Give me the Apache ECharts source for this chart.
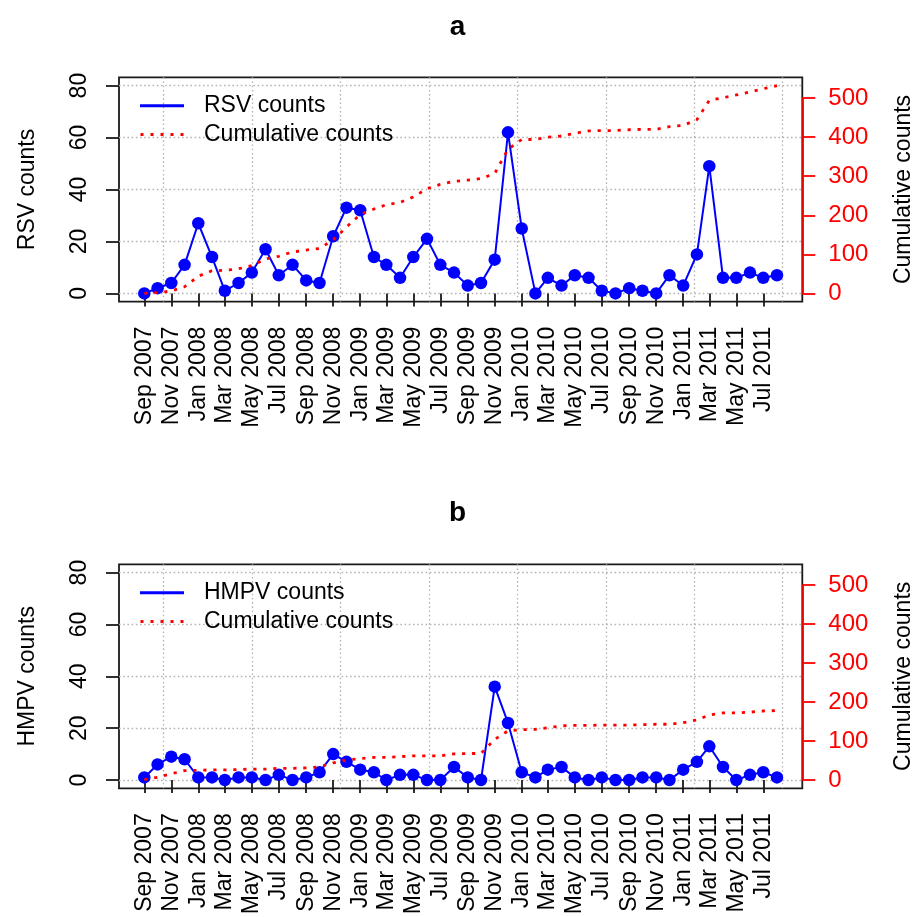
<!DOCTYPE html>
<html>
<head>
<meta charset="utf-8">
<script src="https://cdn.jsdelivr.net/npm/echarts@6/dist/echarts.min.js"></script>
<style>
  html, body { margin: 0; padding: 0; background: #ffffff; }
  #chart { width: 915px; height: 917px; }
</style>
</head>
<body>
<div id="chart"></div>
<script>
// Monthly surveillance counts, Sep 2007 - Aug 2011
const months = [
  '2007-09', '2007-10', '2007-11', '2007-12',
  '2008-01', '2008-02', '2008-03', '2008-04', '2008-05', '2008-06',
  '2008-07', '2008-08', '2008-09', '2008-10', '2008-11', '2008-12',
  '2009-01', '2009-02', '2009-03', '2009-04', '2009-05', '2009-06',
  '2009-07', '2009-08', '2009-09', '2009-10', '2009-11', '2009-12',
  '2010-01', '2010-02', '2010-03', '2010-04', '2010-05', '2010-06',
  '2010-07', '2010-08', '2010-09', '2010-10', '2010-11', '2010-12',
  '2011-01', '2011-02', '2011-03', '2011-04', '2011-05', '2011-06',
  '2011-07', '2011-08'
];

const rsvCounts = [
  0, 2, 4, 11, 27, 14, 1, 4, 8, 17, 7, 11, 5, 4, 22, 33,
  32, 14, 11, 6, 14, 21, 11, 8, 3, 4, 13, 62, 25, 0, 6, 3,
  7, 6, 1, 0, 2, 1, 0, 7, 3, 15, 49, 6, 6, 8, 6, 7
];
const rsvCumulative = [
  0, 2, 6, 17, 44, 58, 59, 63, 71, 88, 95, 106, 111, 115, 137, 170,
  202, 216, 227, 233, 247, 268, 279, 287, 290, 294, 307, 369, 394, 394, 400, 403,
  410, 416, 417, 417, 419, 420, 420, 427, 430, 445, 494, 501, 508, 516, 524, 532
];

const hmpvCounts = [
  1, 6, 9, 8, 1, 1, 0, 1, 1, 0, 2, 0, 1, 3, 10, 7,
  4, 3, 0, 2, 2, 0, 0, 5, 1, 0, 36, 22, 3, 1, 4, 5,
  1, 0, 1, 0, 0, 1, 1, 0, 4, 7, 13, 5, 0, 2, 3, 1
];
const hmpvCumulative = [
  1, 7, 16, 24, 25, 26, 26, 27, 28, 28, 30, 30, 31, 34, 44, 51,
  55, 58, 58, 60, 62, 62, 62, 67, 68, 68, 104, 126, 129, 130, 134, 139,
  140, 140, 141, 141, 141, 142, 143, 143, 147, 154, 167, 172, 172, 174, 177, 178
];

// Axis ticks
const monthTicks = [
  'Sep 2007', 'Nov 2007', 'Jan 2008', 'Mar 2008', 'May 2008', 'Jul 2008',
  'Sep 2008', 'Nov 2008', 'Jan 2009', 'Mar 2009', 'May 2009', 'Jul 2009',
  'Sep 2009', 'Nov 2009', 'Jan 2010', 'Mar 2010', 'May 2010', 'Jul 2010',
  'Sep 2010', 'Nov 2010', 'Jan 2011', 'Mar 2011', 'May 2011', 'Jul 2011'
];
const countTicks = [0, 20, 40, 60, 80];
const cumulativeTicks = [0, 100, 200, 300, 400, 500];
// vertical reference grid, in days since 1970-01-01
const dayGridTicks = [13800, 14000, 14200, 14400, 14600, 14800, 15000, 15200];

// ---------- helpers ----------
const MONTH_ABBR = ['Jan', 'Feb', 'Mar', 'Apr', 'May', 'Jun', 'Jul', 'Aug', 'Sep', 'Oct', 'Nov', 'Dec'];
const DAY_MS = 86400000;
function dayOfIso(s) {
  const [y, m] = s.split('-').map(Number);
  return Date.UTC(y, m - 1, 1) / DAY_MS;
}
function dayOfLabel(s) {
  const [mon, y] = s.split(' ');
  return Date.UTC(Number(y), MONTH_ABBR.indexOf(mon), 1) / DAY_MS;
}

const monthDays = months.map(dayOfIso);
const tickDays = monthTicks.map(dayOfLabel);
const labelByDay = {};
monthTicks.forEach((t, i) => { labelByDay[tickDays[i]] = t; });

// base-graphics style 4% padding on every axis range
function padded(lo, hi) {
  const p = (hi - lo) * 0.04;
  return [lo - p, hi + p];
}
const xRange = padded(monthDays[0], monthDays[monthDays.length - 1]);
const countRange = padded(0, countTicks[countTicks.length - 1]);
const cumRange = padded(0, Math.max(...rsvCumulative));

const FONT = 'Liberation Sans, Arial, Helvetica, sans-serif';
const BLUE = '#0000ff';
const RED = '#ff0000';
const INK = '#1a1a1a';
const GRID_LINE = { color: '#b4b4b4', width: 1.3, type: [1.6, 2.6] };

function panel(idx, top, bottom, countName, counts, cumulative) {
  const grid = {
    left: 119, right: 112.7, top: top, bottom: bottom,
    show: true, borderColor: INK, borderWidth: 1.8, backgroundColor: 'transparent',
    containLabel: false, outerBoundsMode: 'none'
  };
  const xMain = {
    type: 'value', gridIndex: idx, min: xRange[0], max: xRange[1], position: 'bottom',
    axisLine: { show: false },
    axisTick: { show: true, length: 13, customValues: tickDays, lineStyle: { color: INK, width: 1.8 } },
    axisLabel: {
      show: true, customValues: tickDays, rotate: 90, margin: 25,
      fontSize: 23, fontFamily: FONT, color: '#000',
      formatter: v => labelByDay[v] || ''
    },
    splitLine: { show: false }
  };
  const xGrid = {
    type: 'value', gridIndex: idx, min: xRange[0], max: xRange[1], position: 'top',
    axisLine: { show: false },
    axisTick: { show: false, customValues: dayGridTicks },
    axisLabel: { show: false, customValues: dayGridTicks },
    splitLine: { show: true, lineStyle: GRID_LINE }
  };
  const yLeft = {
    type: 'value', gridIndex: idx, min: countRange[0], max: countRange[1], position: 'left',
    name: countName, nameLocation: 'middle', nameRotate: 90, nameGap: 80,
    nameTextStyle: { fontSize: 23, fontFamily: FONT, color: '#000' },
    axisLine: { show: false },
    axisTick: { show: true, length: 13, customValues: countTicks, lineStyle: { color: INK, width: 1.8 } },
    axisLabel: { show: true, customValues: countTicks, rotate: 90, margin: 28, fontSize: 23, fontFamily: FONT, color: '#000' },
    splitLine: { show: true, lineStyle: GRID_LINE }
  };
  const yRight = {
    type: 'value', gridIndex: idx, min: cumRange[0], max: cumRange[1], position: 'right',
    name: 'Cumulative counts', nameLocation: 'middle', nameRotate: 90, nameGap: 90,
    nameTextStyle: { fontSize: 23, fontFamily: FONT, color: '#000' },
    axisLine: { show: false },
    axisTick: { show: true, length: 13, customValues: cumulativeTicks, lineStyle: { color: RED, width: 1.8 } },
    axisLabel: { show: true, customValues: cumulativeTicks, margin: 26, fontSize: 24, fontFamily: FONT, color: RED },
    splitLine: { show: false }
  };
  const countSeries = {
    type: 'line', name: countName,
    xAxisIndex: idx * 2, yAxisIndex: idx * 2,
    data: monthDays.map((d, i) => [d, counts[i]]),
    color: BLUE,
    lineStyle: { color: BLUE, width: 2 },
    symbol: 'circle', symbolSize: 12.5, showSymbol: true,
    itemStyle: { color: BLUE },
    z: 3, silent: true
  };
  const cumSeries = {
    type: 'line', name: 'Cumulative counts',
    xAxisIndex: idx * 2, yAxisIndex: idx * 2 + 1,
    data: monthDays.map((d, i) => [d, cumulative[i]]),
    color: RED,
    lineStyle: { color: RED, width: 2.8, type: [3.2, 6.8] },
    showSymbol: false, symbol: 'none',
    z: 4, silent: true,
    // red axis spine spanning the labelled cumulative range
    markLine: {
      silent: true, symbol: ['none', 'none'], animation: false,
      label: { show: false },
      lineStyle: { color: RED, width: 1.8, type: 'solid' },
      emphasis: { disabled: true },
      data: [[
        { coord: [xRange[1], cumulativeTicks[0]] },
        { coord: [xRange[1], cumulativeTicks[cumulativeTicks.length - 1]] }
      ]]
    }
  };
  const legend = {
    orient: 'vertical', left: 140, top: top + 15.4, padding: 0,
    itemWidth: 44, itemHeight: 3, itemGap: 2.8,
    selectedMode: false,
    textStyle: { fontSize: 23, fontFamily: FONT, color: '#000', lineHeight: 26, padding: [0, 0, 0, 15] },
    data: [
      { name: countName, icon: 'path://M0,0h44v3h-44z' },
      { name: 'Cumulative counts', icon: 'path://M0,0h3v3h-3z M10,0h3v3h-3z M20,0h3v3h-3z M30,0h3v3h-3z M40,0h3v3h-3z' }
    ]
  };
  return { grid, xAxes: [xMain, xGrid], yAxes: [yLeft, yRight], series: [countSeries, cumSeries], legend };
}

const pa = panel(0, 77.3, 917 - 301.7, 'RSV counts', rsvCounts, rsvCumulative);
const pb = panel(1, 564.3, 917 - 788.3, 'HMPV counts', hmpvCounts, hmpvCumulative);

const chart = echarts.init(document.getElementById('chart'), null, { renderer: 'canvas' });
chart.setOption({
  animation: false,
  backgroundColor: '#ffffff',
  textStyle: { fontFamily: FONT },
  title: [
    { text: 'a', left: 'center', top: 8, textStyle: { fontSize: 28, fontWeight: 'bold', fontFamily: FONT, color: '#000' } },
    { text: 'b', left: 'center', top: 494.5, textStyle: { fontSize: 28, fontWeight: 'bold', fontFamily: FONT, color: '#000' } }
  ],
  tooltip: { show: false },
  legend: [pa.legend, pb.legend],
  grid: [pa.grid, pb.grid],
  xAxis: [...pa.xAxes, ...pb.xAxes],
  yAxis: [...pa.yAxes, ...pb.yAxes],
  series: [...pa.series, ...pb.series]
});
</script>
</body>
</html>
